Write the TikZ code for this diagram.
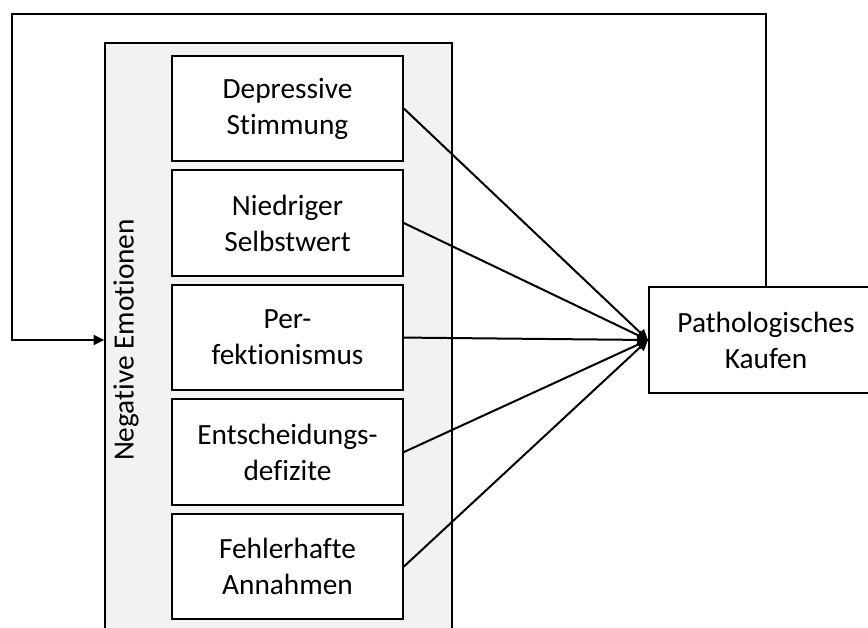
\documentclass[tikz,border=0pt]{standalone}
\usepackage{fontspec}
\setmainfont{Carlito}[Ligatures=NoCommon]
\usetikzlibrary{arrows.meta,positioning}
\tikzset{
    %Define standard arrow tip
    >={Triangle[length=8pt,width=7.5pt]},
    %Define style for boxes
    factor/.style={
           rectangle,
           draw=black, line width=1.5pt,
           minimum width=173pt,
           minimum height=79pt,
           inner sep=2pt,
           align=center,
           font=\fontsize{22}{27}\selectfont,
           fill=white},
    outcome/.style={
           factor,
           minimum width=175.5pt,
           minimum height=79.5pt},
    group/.style={
           rectangle,
           draw=black, line width=1.5pt,
           minimum width=260pt,
           minimum height=446pt,
           fill=black!5},
    % Define arrow style
    pil/.style={
           ->,
           line width=1.5pt}
}
\begin{document}
\begin{tikzpicture}[x=0.75pt,y=-0.75pt,node distance=5.4pt]
\clip (0,0) rectangle (868,628);
 %nodes
\node[group](emo) at (278.5,340){};
\node[rotate=90, font=\fontsize{22}{27}\selectfont](emolabel) at (126,340){Negative Emotionen};
\node[factor](f1) at (287.5,108.5){Depressive\\Stimmung};
\node[factor, below=of f1](f2){Niedriger\\Selbstwert};
\node[factor, below=of f2](f3){Per-\\fektionismus};
\node[factor, below=of f3](f4){Entscheidungs-\\defizite};
\node[factor, below=of f4](f5){Fehlerhafte\\Annahmen};
\node[outcome](kauf) at (766,340){Pathologisches\\Kaufen};
\coordinate (loop) at (12,14);
 %arrows
\foreach \f in {f1,f2,f3,f4,f5}
    \draw[pil] (\f.east) -- (kauf.west);
\draw[pil] (kauf.north) |- (loop) |- (emo.west);
\end{tikzpicture}
\end{document}
